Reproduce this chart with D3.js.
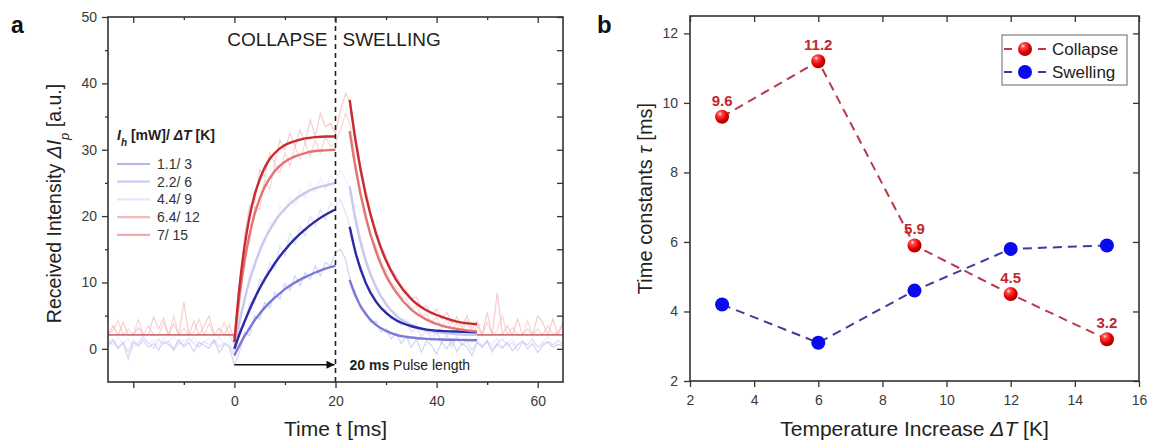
<!DOCTYPE html>
<html>
<head>
<meta charset="utf-8">
<script src="https://cdn.jsdelivr.net/npm/d3@7"></script>
<style>
  body { margin: 0; background: #fff; }
  text { font-family: "Liberation Sans", Arial, Helvetica, sans-serif; }
</style>
</head>
<body>
<div id="chart"></div>
<script>
// ---- data, panel a ----
const seriesLabels = ["1.1/ 3", "2.2/ 6", "4.4/ 9", "6.4/ 12", "7/ 15"];

// raw traces, sampled every 1 ms from -25 ms to 65 ms
const rawTime = d3.range(-25, 66, 1);
const raw1 = [0.5,1.2,0.0,0.9,-1.5,1.0,0.4,1.3,0.2,0.8,-0.2,1.1,0.6,0.0,1.4,0.3,0.9,-0.4,1.0,0.5,0.1,1.2,-0.6,0.7,0.3,
  -2.5,-0.5,2.5,2.0,5.0,4.5,7.0,6.2,8.5,7.5,9.8,8.8,11.0,9.5,11.5,10.5,12.5,11.0,13.0,12.5,14.5,
  15.0,13.5,10.0,8.5,6.0,5.5,4.0,4.2,2.5,3.0,1.5,2.4,0.8,1.9,0.2,1.5,-0.5,1.2,0.5,-0.8,1.0,0.0,1.3,-0.4,0.8,0.3,-1.0,0.9,0.2,1.1,-0.5,0.7,0.1,1.0,-0.3,0.6,1.2,0.0,0.8,-0.6,0.5,1.0,0.2,0.7,0.4];
const raw2 = [0.8,1.5,0.2,1.0,-0.5,1.3,0.6,1.8,0.9,0.1,1.4,0.7,1.2,-0.3,1.0,0.5,1.6,0.8,0.2,1.1,0.6,1.4,0.3,0.9,0.5,
  -1.0,3.0,3.5,7.0,6.8,10.5,9.8,13.0,12.0,15.5,14.0,17.5,15.8,18.5,17.0,20.0,18.5,21.0,19.5,22.0,21.5,
  22.5,20.5,18.0,14.0,12.5,10.0,8.8,7.5,6.0,5.8,4.5,4.6,3.5,3.9,2.5,3.2,1.8,2.8,1.2,2.5,0.8,2.0,0.3,1.6,0.6,1.2,-0.2,1.0,0.5,1.3,0.0,0.8,1.5,0.4,1.0,-0.3,0.9,0.6,1.4,0.2,0.8,1.1,0.5,1.3,0.7];
const raw3 = [1.2,0.5,1.8,0.8,1.5,0.2,1.1,1.9,0.7,1.3,0.4,1.6,1.0,2.0,0.6,1.4,0.9,1.7,0.3,1.2,1.5,0.8,1.8,0.6,1.1,
  -0.5,5.0,6.5,11.5,12.0,15.5,15.8,19.0,18.5,21.5,20.5,22.8,21.5,24.0,22.8,25.0,23.5,25.8,24.0,26.0,25.5,
  27.0,25.5,24.0,20.0,16.5,13.8,11.0,9.8,8.0,7.2,5.8,5.5,4.2,4.5,3.2,3.8,2.5,3.2,1.8,2.6,1.2,2.2,0.8,1.9,0.5,1.5,0.9,1.8,0.3,1.2,0.6,1.6,0.2,1.0,1.4,0.4,1.1,0.7,1.5,0.3,1.0,1.8,0.6,1.2,0.9];
const raw4 = [2.1,2.8,4.2,2.1,3.0,2.1,4.4,2.1,3.5,2.1,2.1,3.9,2.1,5.0,2.1,3.1,2.1,2.6,4.5,2.1,3.8,2.1,2.1,4.0,2.1,
  0.5,6.5,14.5,16.0,21.5,21.0,25.5,24.0,27.8,26.5,29.5,27.5,30.5,28.5,31.0,29.0,31.5,29.5,32.0,30.5,31.0,
  33.0,35.5,33.5,28.0,23.5,20.5,17.0,15.5,13.0,11.8,10.0,9.2,7.8,7.5,6.0,6.5,5.0,5.2,4.0,4.8,3.2,4.5,2.8,3.8,2.5,4.2,2.1,3.5,2.1,4.0,2.1,2.8,5.0,2.1,3.2,2.1,2.1,4.2,2.1,3.0,2.1,3.5,2.1,2.5,4.0];
const raw5 = [2.1,3.5,2.1,4.0,2.1,2.1,3.2,2.1,2.1,4.8,3.0,4.6,2.1,3.8,2.1,7.0,2.1,4.2,2.1,3.4,5.0,2.1,3.1,2.1,3.6,
  1.5,8.0,17.0,21.5,22.0,27.0,26.0,29.5,28.0,31.5,30.0,32.5,30.5,33.0,31.0,34.5,32.0,35.5,33.5,34.0,32.5,
  36.0,38.5,37.0,32.0,27.5,24.0,20.5,18.0,15.5,14.0,12.0,11.0,9.5,8.8,7.5,7.8,6.2,6.5,5.2,6.0,4.5,5.5,3.8,4.8,3.2,5.0,3.0,4.2,2.1,5.5,2.1,8.5,2.1,3.5,2.1,4.5,2.1,3.0,2.1,5.0,4.0,2.1,4.5,2.1,3.8];

// fitted baseline of the red traces outside the pulse response
const baselineTime = [[-25, 0], [48, 65]];
const baselineLevel = 2.1;

// fitted curves, collapse (during pulse) and swelling (after pulse)
const collapseTime = [0,1,2,3,4,5,6,7,8,10,12,14,16,18,20];
const collapse1 = [-1,0.5,1.9,3.1,4.3,5.3,6.2,7.0,7.7,9.0,10.0,10.8,11.5,12.1,12.5];
const collapse2 = [0,2.2,4.1,5.9,7.6,9.1,10.5,11.7,12.9,14.9,16.6,18.0,19.2,20.2,21.0];
const collapse3 = [0,4.0,7.4,10.3,12.7,14.7,16.5,17.9,19.2,21.1,22.5,23.5,24.2,24.6,25.0];
const collapse4 = [1,7.9,13.1,17.2,20.3,22.6,24.4,25.7,26.8,28.2,29.0,29.5,29.8,29.9,30.0];
const collapse5 = [1,9.3,15.4,19.9,23.2,25.5,27.3,28.6,29.5,30.7,31.3,31.7,31.9,32.0,32.0];

const swellTime = [22.8,24,26,28,30,32,35,38,41,44,48];
const swell1 = [10.4,7.9,5.2,3.6,2.7,2.1,1.7,1.5,1.4,1.35,1.3];
const swell2 = [18.4,14.4,9.9,7.1,5.4,4.3,3.4,2.9,2.7,2.6,2.5];
const swell3 = [24.5,19.3,13.2,9.3,6.7,5.0,3.6,2.8,2.4,2.2,2.1];
const swell4 = [32.8,27.1,19.8,14.7,11.0,8.5,5.9,4.4,3.5,3.0,2.6];
const swell5 = [37.5,31.2,23.1,17.4,13.3,10.4,7.5,5.8,4.8,4.1,3.7];

const xTicksA = [-20, 0, 20, 40, 60];
const xMinorA = [-10, 10, 30, 50];
const yTicksA = [0, 10, 20, 30, 40, 50];
const yMinorA = [5, 15, 25, 35, 45];

// ---- data, panel b ----
const deltaT = [3, 6, 9, 12, 15];
const tauCollapse = [9.6, 11.2, 5.9, 4.5, 3.2];
const tauSwelling = [4.2, 3.1, 4.6, 5.8, 5.9];
const xTicksB = [2, 4, 6, 8, 10, 12, 14, 16];
const yTicksB = [2, 4, 6, 8, 10, 12];

// colours
const rawColors = ["#b6b6ec", "#cdcdf2", "#e6e6f8", "#f5bcbc", "#f2aaaa"];
const fitColors = ["#7b79d6", "#2a2aa6", "#c9c9ef", "#e27474", "#c92b30"];
const collapseRed = "#b73a4a";
const swellBlue = "#3d3d9b";

const W = 1151, H = 442;
const svg = d3.select("#chart").append("svg")
    .attr("width", W)
    .attr("height", H);

function styleAxis(g, size) {
    g.select(".domain").remove();
    g.selectAll("line").attr("stroke", "#333").attr("stroke-width", 1.3);
    g.selectAll("text").attr("fill", "#3a3a3a").attr("font-size", size || 14);
}

// ================= panel a =================
const aBox = { left: 108, right: 563, top: 17, bottom: 382 };
const xA = d3.scaleLinear().domain([-25, 65]).range([aBox.left, aBox.right]);
const yA = d3.scaleLinear().domain([-5, 50]).range([aBox.bottom, aBox.top]);

svg.append("defs").append("clipPath").attr("id", "clipA")
    .append("rect")
    .attr("x", aBox.left).attr("y", aBox.top)
    .attr("width", aBox.right - aBox.left).attr("height", aBox.bottom - aBox.top);

const plotA = svg.append("g").attr("clip-path", "url(#clipA)");

const rawSeries = [raw3, raw2, raw1, raw4, raw5];
const rawOrder = [2, 1, 0, 3, 4];
const rawLine = d3.line()
    .x((d, i) => xA(rawTime[i]))
    .y(d => yA(d));
rawSeries.forEach((vals, k) => {
    plotA.append("path")
        .attr("d", rawLine(vals))
        .attr("fill", "none")
        .attr("stroke", rawColors[rawOrder[k]])
        .attr("stroke-opacity", 0.6)
        .attr("stroke-width", 1.2);
});

baselineTime.forEach(([t0, t1]) => {
    plotA.append("line")
        .attr("x1", xA(t0)).attr("x2", xA(t1))
        .attr("y1", yA(baselineLevel)).attr("y2", yA(baselineLevel))
        .attr("stroke", "#d86c74")
        .attr("stroke-width", 1.6);
});

const collapseSeries = [collapse1, collapse2, collapse3, collapse4, collapse5];
const swellSeries = [swell1, swell2, swell3, swell4, swell5];
const drawOrder = [2, 0, 1, 3, 4];

const collapseLine = d3.line()
    .x((d, i) => xA(collapseTime[i]))
    .y(d => yA(d))
    .curve(d3.curveMonotoneX);
const swellLine = d3.line()
    .x((d, i) => xA(swellTime[i]))
    .y(d => yA(d))
    .curve(d3.curveMonotoneX);

drawOrder.forEach(k => {
    plotA.append("path")
        .attr("d", collapseLine(collapseSeries[k]))
        .attr("fill", "none")
        .attr("stroke", fitColors[k])
        .attr("stroke-width", 2.4);
    plotA.append("path")
        .attr("d", swellLine(swellSeries[k]))
        .attr("fill", "none")
        .attr("stroke", fitColors[k])
        .attr("stroke-width", 2.4);
});

// pulse end marker
svg.append("line")
    .attr("x1", xA(20)).attr("x2", xA(20))
    .attr("y1", aBox.top).attr("y2", aBox.bottom)
    .attr("stroke", "#222")
    .attr("stroke-width", 1.6)
    .attr("stroke-dasharray", "5,4");

svg.select("defs").append("marker")
    .attr("id", "arrow")
    .attr("viewBox", "0 0 10 10")
    .attr("refX", 10)
    .attr("refY", 5)
    .attr("orient", "auto")
    .attr("markerUnits", "userSpaceOnUse")
    .attr("markerWidth", 10)
    .attr("markerHeight", 8)
    .append("path")
    .attr("d", "M0,0 L10,5 L0,10 Z")
    .attr("fill", "#111");

svg.append("line")
    .attr("x1", xA(0)).attr("x2", xA(20) - 1)
    .attr("y1", yA(-2.4)).attr("y2", yA(-2.4))
    .attr("stroke", "#111")
    .attr("stroke-width", 1.6)
    .attr("marker-end", "url(#arrow)");

const pulseText = svg.append("text")
    .attr("x", xA(20) + 14)
    .attr("y", yA(-2.4) + 5)
    .attr("font-size", 14)
    .attr("fill", "#222");
pulseText.append("tspan").attr("font-weight", "bold").text("20 ms");
pulseText.append("tspan").text(" Pulse length");

svg.append("text")
    .attr("x", xA(20) - 8).attr("y", 46)
    .attr("text-anchor", "end")
    .attr("font-size", 19)
    .attr("fill", "#222")
    .text("COLLAPSE");
svg.append("text")
    .attr("x", xA(20) + 7).attr("y", 46)
    .attr("font-size", 19)
    .attr("fill", "#222")
    .text("SWELLING");

// axes a
svg.append("rect")
    .attr("x", aBox.left).attr("y", aBox.top)
    .attr("width", aBox.right - aBox.left).attr("height", aBox.bottom - aBox.top)
    .attr("fill", "none").attr("stroke", "#333").attr("stroke-width", 1.6);

svg.append("g").attr("transform", `translate(0,${aBox.bottom})`)
    .call(d3.axisBottom(xA).tickValues(xTicksA).tickSize(6).tickPadding(8)
        .tickFormat(d => d === -20 ? "" : d))
    .call(styleAxis);
svg.append("g").attr("transform", `translate(0,${aBox.bottom})`)
    .call(d3.axisBottom(xA).tickValues(xMinorA).tickSize(3).tickFormat(""))
    .call(styleAxis);
svg.append("g").attr("transform", `translate(0,${aBox.top})`)
    .call(d3.axisTop(xA).tickValues(xTicksA).tickSize(-6).tickFormat(""))
    .call(styleAxis);
svg.append("g").attr("transform", `translate(0,${aBox.top})`)
    .call(d3.axisTop(xA).tickValues(xMinorA).tickSize(-3).tickFormat(""))
    .call(styleAxis);

svg.append("g").attr("transform", `translate(${aBox.left},0)`)
    .call(d3.axisLeft(yA).tickValues(yTicksA).tickSize(6).tickPadding(5))
    .call(styleAxis);
svg.append("g").attr("transform", `translate(${aBox.left},0)`)
    .call(d3.axisLeft(yA).tickValues(yMinorA).tickSize(3).tickFormat(""))
    .call(styleAxis);
svg.append("g").attr("transform", `translate(${aBox.right},0)`)
    .call(d3.axisRight(yA).tickValues(yTicksA.concat(yMinorA)).tickSize(-6).tickFormat(""))
    .call(styleAxis);

// axis titles a
svg.append("text")
    .attr("x", (aBox.left + aBox.right) / 2)
    .attr("y", 436)
    .attr("text-anchor", "middle")
    .attr("font-size", 21)
    .attr("fill", "#222")
    .text("Time t [ms]");

const yTitleA = svg.append("text")
    .attr("transform", `translate(61,${(aBox.top + aBox.bottom) / 2 + 4}) rotate(-90)`)
    .attr("text-anchor", "middle")
    .attr("font-size", 19.5)
    .attr("fill", "#222");
yTitleA.append("tspan").text("Received Intensity ");
yTitleA.append("tspan").attr("font-style", "italic").text("\u0394I");
yTitleA.append("tspan").attr("font-style", "italic").attr("font-size", 13)
    .attr("baseline-shift", "sub").text("p");
yTitleA.append("tspan").text(" [a.u.]");

// legend a
const legA = svg.append("g");
const legTitle = legA.append("text")
    .attr("x", 117).attr("y", 140)
    .attr("font-size", 14)
    .attr("font-weight", "bold")
    .attr("fill", "#222");
legTitle.append("tspan").attr("font-style", "italic").text("I");
legTitle.append("tspan").attr("font-style", "italic").attr("font-size", 10)
    .attr("baseline-shift", "sub").text("h");
legTitle.append("tspan").text(" [mW]/ ");
legTitle.append("tspan").attr("font-style", "italic").text("\u0394T");
legTitle.append("tspan").text(" [K]");

seriesLabels.forEach((lab, i) => {
    const y = 164 + i * 17.7;
    legA.append("line")
        .attr("x1", 117).attr("x2", 150)
        .attr("y1", y).attr("y2", y)
        .attr("stroke", rawColors[i])
        .attr("stroke-width", 2.2);
    legA.append("text")
        .attr("x", 157).attr("y", y + 5)
        .attr("font-size", 14)
        .attr("fill", "#333")
        .text(lab);
});

svg.append("text")
    .attr("x", 11).attr("y", 33)
    .attr("font-size", 23)
    .attr("font-weight", "bold")
    .attr("fill", "#111")
    .text("a");

// ================= panel b =================
const bBox = { left: 690, right: 1139, top: 16, bottom: 381 };
const xB = d3.scaleLinear().domain([2, 16]).range([bBox.left, bBox.right]);
const yB = d3.scaleLinear().domain([2, 12.5]).range([bBox.bottom, bBox.top]);

const grad = svg.select("defs").append("radialGradient")
    .attr("id", "ball")
    .attr("cx", "38%").attr("cy", "32%").attr("r", "70%")
    .attr("fx", "35%").attr("fy", "28%");
grad.append("stop").attr("offset", "0%").attr("stop-color", "#ffe4e4");
grad.append("stop").attr("offset", "22%").attr("stop-color", "#ff4a4a");
grad.append("stop").attr("offset", "65%").attr("stop-color", "#e00000");
grad.append("stop").attr("offset", "100%").attr("stop-color", "#a00000");

const lineB = (vals) => d3.line()
    .x((d, i) => xB(deltaT[i]))
    .y(d => yB(d))(vals);

svg.append("path")
    .attr("d", lineB(tauCollapse))
    .attr("fill", "none")
    .attr("stroke", collapseRed)
    .attr("stroke-width", 2)
    .attr("stroke-dasharray", "9,6");
svg.append("path")
    .attr("d", lineB(tauSwelling))
    .attr("fill", "none")
    .attr("stroke", swellBlue)
    .attr("stroke-width", 2)
    .attr("stroke-dasharray", "9,6");

svg.append("g").selectAll("circle")
    .data(tauSwelling)
    .join("circle")
    .attr("cx", (d, i) => xB(deltaT[i]))
    .attr("cy", d => yB(d))
    .attr("r", 7)
    .attr("fill", "#0a0aee");

svg.append("g").selectAll("circle")
    .data(tauCollapse)
    .join("circle")
    .attr("cx", (d, i) => xB(deltaT[i]))
    .attr("cy", d => yB(d))
    .attr("r", 7)
    .attr("fill", "url(#ball)");

svg.append("g").selectAll("text")
    .data(tauCollapse)
    .join("text")
    .attr("x", (d, i) => xB(deltaT[i]))
    .attr("y", d => yB(d) - 11)
    .attr("text-anchor", "middle")
    .attr("font-size", 15)
    .attr("font-weight", "bold")
    .attr("fill", "#c4262c")
    .text(d => d.toFixed(1));

// axes b
svg.append("rect")
    .attr("x", bBox.left).attr("y", bBox.top)
    .attr("width", bBox.right - bBox.left).attr("height", bBox.bottom - bBox.top)
    .attr("fill", "none").attr("stroke", "#333").attr("stroke-width", 1.6);

svg.append("g").attr("transform", `translate(0,${bBox.bottom})`)
    .call(d3.axisBottom(xB).tickValues(xTicksB).tickSize(6).tickPadding(8))
    .call(styleAxis);
svg.append("g").attr("transform", `translate(0,${bBox.top})`)
    .call(d3.axisTop(xB).tickValues(xTicksB).tickSize(-6).tickFormat(""))
    .call(styleAxis);
svg.append("g").attr("transform", `translate(${bBox.left},0)`)
    .call(d3.axisLeft(yB).tickValues(yTicksB).tickSize(6).tickPadding(6))
    .call(styleAxis);
svg.append("g").attr("transform", `translate(${bBox.right},0)`)
    .call(d3.axisRight(yB).tickValues(yTicksB).tickSize(-6).tickFormat(""))
    .call(styleAxis);

const xTitleB = svg.append("text")
    .attr("x", (bBox.left + bBox.right) / 2)
    .attr("y", 436)
    .attr("text-anchor", "middle")
    .attr("font-size", 21)
    .attr("fill", "#222");
xTitleB.append("tspan").text("Temperature Increase ");
xTitleB.append("tspan").attr("font-style", "italic").text("\u0394T");
xTitleB.append("tspan").text(" [K]");

const yTitleB = svg.append("text")
    .attr("transform", `translate(652,${(bBox.top + bBox.bottom) / 2}) rotate(-90)`)
    .attr("text-anchor", "middle")
    .attr("font-size", 20)
    .attr("fill", "#222");
yTitleB.append("tspan").text("Time constants ");
yTitleB.append("tspan").attr("font-style", "italic").text("\u03C4");
yTitleB.append("tspan").text(" [ms]");

// legend b
const legB = svg.append("g");
legB.append("rect")
    .attr("x", 1002).attr("y", 35)
    .attr("width", 125).attr("height", 50)
    .attr("fill", "#fff")
    .attr("stroke", "#666")
    .attr("stroke-width", 1);
const legBItems = [
    { name: "Collapse", color: collapseRed, fill: "url(#ball)" },
    { name: "Swelling", color: swellBlue, fill: "#0a0aee" }
];
legBItems.forEach((it, i) => {
    const y = 49 + i * 23;
    [[1004, 1012], [1038, 1046]].forEach(([a, b]) => {
        legB.append("line")
            .attr("x1", a).attr("x2", b)
            .attr("y1", y).attr("y2", y)
            .attr("stroke", it.color)
            .attr("stroke-width", 2);
    });
    legB.append("circle")
        .attr("cx", 1025).attr("cy", y)
        .attr("r", 7)
        .attr("fill", it.fill);
    legB.append("text")
        .attr("x", 1052).attr("y", y + 6)
        .attr("font-size", 17)
        .attr("fill", "#222")
        .text(it.name);
});

svg.append("text")
    .attr("x", 597).attr("y", 33)
    .attr("font-size", 24)
    .attr("font-weight", "bold")
    .attr("fill", "#111")
    .text("b");
</script>
</body>
</html>
